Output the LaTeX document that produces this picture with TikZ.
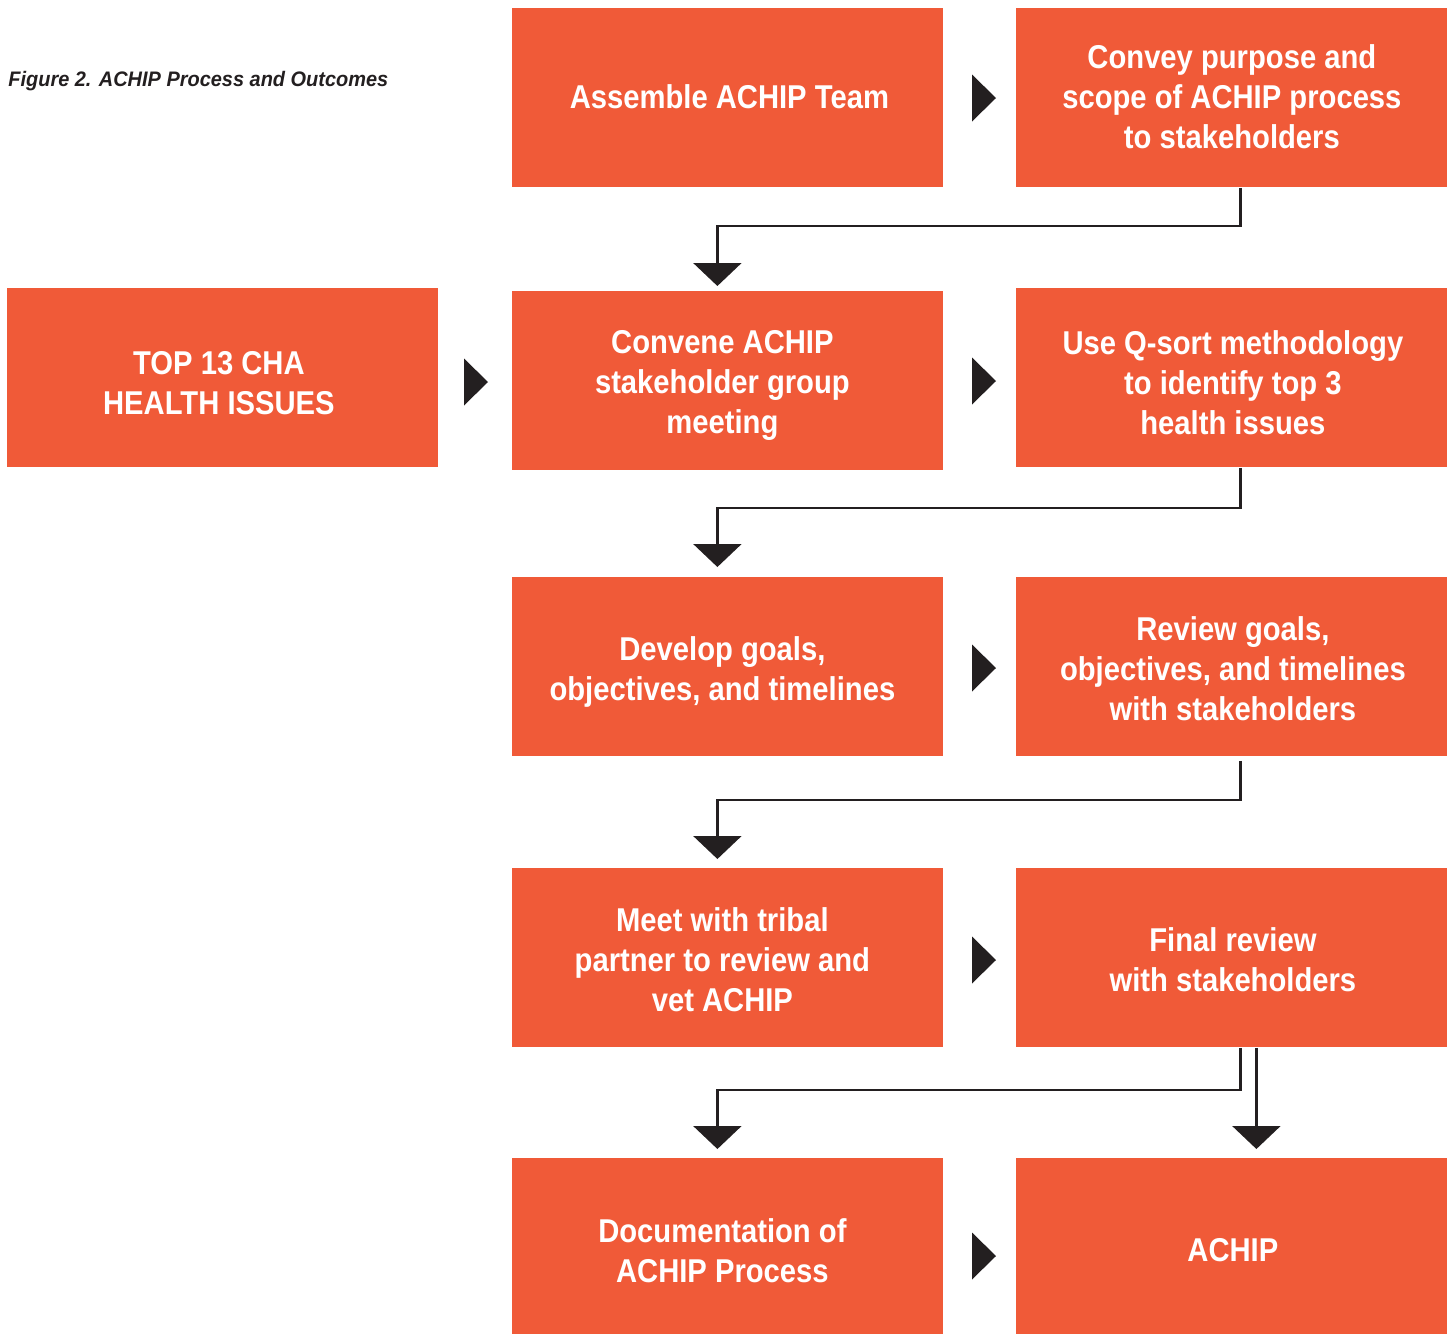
\documentclass[tikz,border=0pt]{standalone}
\usepackage{fontspec}
\setmainfont[FakeStretch=0.885]{Liberation Sans}
\newfontfamily\titlefont[FakeStretch=0.95]{Liberation Sans}
\usetikzlibrary{arrows.meta,calc}
\definecolor{achip}{HTML}{F05A38}
\definecolor{ink}{HTML}{231F20}
\begin{document}
\begin{tikzpicture}[x=0.5pt,y=-0.5pt,
  box/.style={fill=achip, minimum width=215.5pt, minimum height=89.5pt, inner sep=0pt, anchor=north west},
  lbl/.style={align=center, text=white, inner sep=0pt, font=\bfseries\fontsize{16.5}{20}\selectfont},
  conn/.style={draw=ink, line width=1.2pt, -{Triangle[width=24pt,length=11.5pt]}},
  rt/.pic={\fill[ink] (0,-23.5) -- (24,0) -- (0,23.5) -- cycle;}
]
\useasboundingbox (0,0) rectangle (1453,1334);
\node[anchor=base west, inner sep=0pt, text=ink, font=\titlefont\bfseries\itshape\fontsize{10.5}{12}\selectfont] (title) at (8,86) {Figure 2. ACHIP Process and Outcomes};

\node[box, label={[lbl, xshift=0.75pt, yshift=0.5pt]center:{Assemble ACHIP Team}}] (a1) at (512,8) {};
\node[box, label={[lbl, yshift=0.5pt]center:{Convey purpose and\\scope of ACHIP process\\to stakeholders}}] (b1) at (1016,8) {};
\node[box, label={[lbl, xshift=-2pt, yshift=-2.5pt]center:{TOP 13 CHA\\HEALTH ISSUES}}] (t13) at (7,288) {};
\node[box, label={[lbl, xshift=-2.75pt, yshift=-2.5pt]center:{Convene ACHIP\\stakeholder group\\meeting}}] (a2) at (512,291) {};
\node[box, label={[lbl, xshift=0.5pt, yshift=-2.5pt]center:{Use Q-sort methodology\\to identify top 3\\health issues}}] (b2) at (1016,288) {};
\node[box, label={[lbl, xshift=-2.75pt, yshift=-2.5pt]center:{Develop goals,\\objectives, and timelines}}] (a3) at (512,577) {};
\node[box, label={[lbl, xshift=0.5pt, yshift=-1pt]center:{Review goals,\\objectives, and timelines\\with stakeholders}}] (b3) at (1016,577) {};
\node[box, label={[lbl, xshift=-2.75pt, yshift=-1pt]center:{Meet with tribal\\partner to review and\\vet ACHIP}}] (a4) at (512,868) {};
\node[box, label={[lbl, xshift=0.5pt, yshift=-1pt]center:{Final review\\with stakeholders}}] (b4) at (1016,868) {};
\node[box, minimum height=88pt, label={[lbl, xshift=-2.75pt, yshift=-2pt]center:{Documentation of\\ACHIP Process}}] (a5) at (512,1158) {};
\node[box, minimum height=88pt, label={[lbl, xshift=0.5pt, yshift=-2pt]center:{ACHIP}}] (b5) at (1016,1158) {};

\pic at (972,98) {rt};
\pic at (464,382) {rt};
\pic at (972,381) {rt};
\pic at (972,668) {rt};
\pic at (972,960) {rt};
\pic at (972,1256) {rt};

\draw[conn, shorten >=2.5pt] ([xshift=4.25pt]b1.south) -- ++(0,38) -| ([xshift=-5.25pt]a2.north);
\draw[conn, shorten >=5pt] ([xshift=4.25pt]b2.south) -- ++(0,40) -| ([xshift=-5.25pt]a3.north);
\draw[conn, shorten >=4.5pt, shorten <=2pt] ([xshift=4.25pt]b3.south) -- ++(0,43) -| ([xshift=-5.25pt]a4.north);
\draw[conn, shorten >=4.5pt] ([xshift=4.25pt]b4.south) -- ++(0,42) -| ([xshift=-5.25pt]a5.north);
\draw[conn, shorten >=4.5pt] ([xshift=12.25pt]b4.south) -- ([xshift=12.25pt]b5.north);
\end{tikzpicture}
\end{document}
